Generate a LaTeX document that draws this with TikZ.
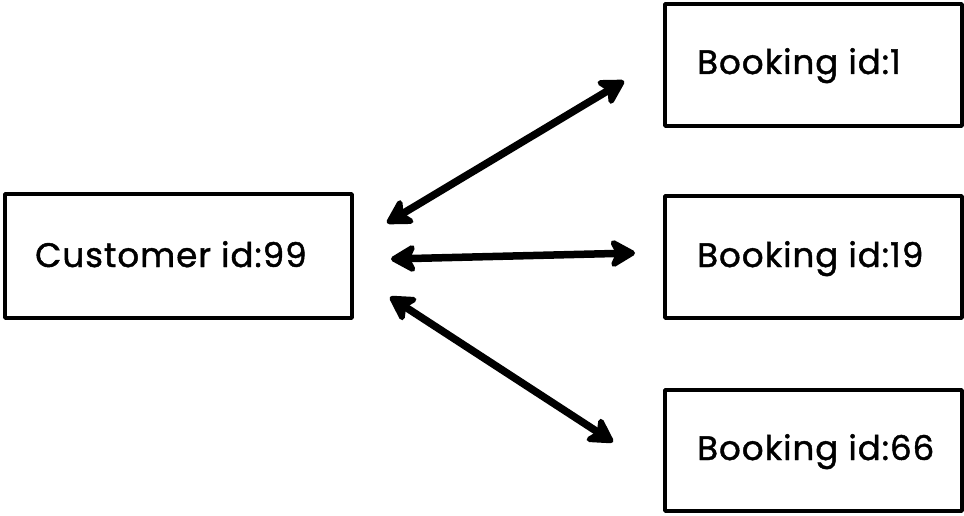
\documentclass[tikz,border=0pt]{standalone}
\usepackage{fontspec}
\setmainfont{Poppins}[FakeBold=1.3,LetterSpace=3]
\usetikzlibrary{arrows.meta}
\tikzset{
  box/.style={draw=black, line width=3.8pt, line join=round},
  lbl/.style={anchor=base west, inner sep=0pt, font=\fontsize{34}{40}\selectfont},
  tipend/.tip={Stealth[length=30pt,width=34pt,inset=8pt,round]},
  link/.style={line width=7.5pt, tipend-tipend}
}
\begin{document}
\begin{tikzpicture}[x=1pt,y=-1pt]
\useasboundingbox[fill=white] (0,0) rectangle (964,516);
% boxes
\draw[box] (5,194) rectangle (352,318);
\draw[box] (665,4) rectangle (962,126);
\draw[box] (665,196) rectangle (962,318);
\draw[box] (665,390) rectangle (962,511);
% labels
\node[lbl] (cust) at (35,267) {Customer id:99};
\node[lbl] (b1) at (697,74) {Booking id:1};
\node[lbl] (b19) at (697,267) {Booking id:19};
\node[lbl] (b66) at (697,460) {Booking id:66};
% arrow end points
\coordinate (a1s) at (387,223);
\coordinate (a1e) at (624,81);
\coordinate (a2s) at (391,259);
\coordinate (a2e) at (635,253);
\coordinate (a3s) at (390,297);
\coordinate (a3e) at (613,442);
\draw[link] (a1s) -- (a1e);
\draw[link] (a2s) -- (a2e);
\draw[link] (a3s) -- (a3e);
\end{tikzpicture}
\end{document}
